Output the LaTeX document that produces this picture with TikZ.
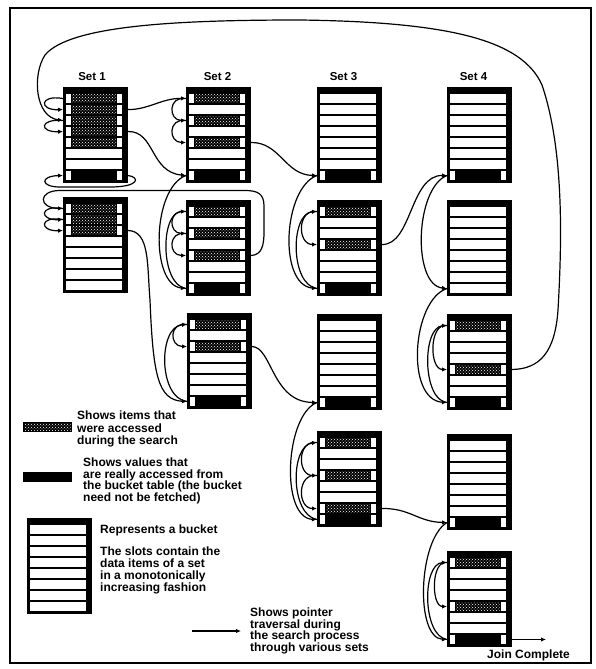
\documentclass[tikz,border=0pt]{standalone}
\usepackage{fontspec}
\setmainfont{Liberation Sans}
\usetikzlibrary{arrows.meta,patterns}
\newcommand\slotw[2]{\fill[white] (3,#1) rectangle (59,#2);}
\newcommand\sloth[2]{\fill[white] (3,#1) rectangle (59,#2);\fill[black] (7.5,#1) rectangle (54,#2);\fill[pattern=crosshatch dots,pattern color=white] (9,#1+1.2) rectangle (52.5,#2-1.2);}
\newcommand\slotb[2]{\fill[white] (3,#1) rectangle (59,#2);\fill[black] (7.5,#1) rectangle (53.5,#2);}
\newcommand\mkbucket[4]{%
 \begin{scope}[shift={(#2,#3)}]
 \fill[black] (0,0) rectangle (65,96);
 \foreach \c [count=\i] in {#4}{%
  \pgfmathsetmacro\yt{6+(\i-1)*11+0.75}%
  \pgfmathsetmacro\yb{6+\i*11-0.75}%
  \pgfmathsetmacro\ym{0.5+11*\i}%
  \coordinate (#1-L\i) at (0,\ym);
  \coordinate (#1-R\i) at (65,\ym);
  \csname slot\c\endcsname{\yt}{\yb}%
 }
 \end{scope}}
\tikzset{
 conn/.style={line width=1.2pt,-{Latex[length=5pt,width=4.5pt]}},
 lbl/.style={font=\fontsize{12}{12.5}\selectfont\bfseries,inner sep=0pt,align=left,anchor=north west},
 lbltight/.style={lbl,font=\fontsize{12}{11.5}\selectfont\bfseries},
 ttl/.style={font=\fontsize{11.5}{12}\selectfont\bfseries,inner sep=0pt,anchor=north}
}
\begin{document}
\begin{tikzpicture}[x=1pt,y=-1pt]
\useasboundingbox (0,0) rectangle (596,669);
\fill[white] (0,0) rectangle (596,669);
\draw[line width=2.5pt] (10,8) rectangle (591,663);

% titles
\node[ttl] (t1) at (92,72) {Set 1};
\node[ttl] (t2) at (217.5,72) {Set 2};
\node[ttl] (t3) at (343.5,72) {Set 3};
\node[ttl] (t4) at (473.5,72) {Set 4};

% buckets
\mkbucket{s1a}{63}{87}{h,h,h,h,h,w,w,b}
\mkbucket{s1b}{63}{197}{h,h,h,w,w,w,w,w}
\mkbucket{s2a}{186}{87}{h,w,h,w,h,w,w,b}
\mkbucket{s2b}{186}{200}{h,w,h,w,h,w,w,b}
\mkbucket{s2c}{187}{313}{h,w,h,w,w,w,w,b}
\mkbucket{s3a}{317}{87}{w,w,w,w,w,w,w,b}
\mkbucket{s3b}{317}{200}{h,w,w,h,w,w,w,b}
\mkbucket{s3c}{317}{314}{w,w,w,w,w,w,w,b}
\mkbucket{s3d}{317}{431}{h,w,w,h,w,w,h,b}
\mkbucket{s4a}{447}{87}{w,w,w,w,w,w,w,b}
\mkbucket{s4b}{447}{200}{w,w,w,w,w,w,w,w}
\mkbucket{s4c}{447}{314}{h,w,w,w,h,w,w,b}
\mkbucket{s4d}{447}{434}{w,w,w,w,w,w,w,b}
\mkbucket{s4e}{447}{551}{h,w,w,w,h,w,w,b}

% big loop
\draw[conn] (s4c-R5) .. controls (540,369) and (555,352) .. (558,310)
  .. controls (562,240) and (564,150) .. (542,85)
  .. controls (522,40) and (450,22) .. (300,20)
  .. controls (180,20) and (70,25) .. (45,55)
  .. controls (32,75) and (35,117) .. (s1a-L3);

% set 1
\draw[conn] (s1a-L1) .. controls +(-24,-4) and +(-24,1) .. (s1a-L2);
\draw[conn] (s1a-L3) .. controls +(-24,-2) and +(-24,1) .. (s1a-L4);
\draw[conn] (s1a-R8) .. controls (140,177) and (140,187) .. (110,187) -- (60,187) .. controls (40,187) and (40,176) .. (s1a-L8);
\draw[conn] (s2b-R5) .. controls (262,255) and (264,245) .. (264,232) -- (264,206) .. controls (264,194) and (258,190.5) .. (245,190.5) -- (60,190.5) .. controls (38,190.5) and (38,208) .. (s1b-L1);
\draw[conn] (s1b-L1) .. controls +(-24,-4) and +(-24,1) .. (s1b-L2);
\draw[conn] (s1b-L2) .. controls +(-24,-4) and +(-24,1) .. (s1b-L3);
\draw[conn] (s1a-R2) .. controls (148,110) and (162,98) .. (s2a-L1);
\draw[conn] (s1a-R4) .. controls (155,131) and (150,172) .. (s2a-L8);
\draw[conn] (s1b-R3) .. controls (150,231) and (147,265) .. (150,300) .. controls (153,375) and (158,400) .. (s2c-L8);

% set 2
\draw[conn] (s2a-L1) .. controls +(-18,-3) and +(-18,0) .. (s2a-L3);
\draw[conn] (s2a-L3) .. controls +(-18,-3) and +(-18,0) .. (s2a-L5);
\draw[conn] (s2a-L8) .. controls (152,188) and (150,285) .. (s2b-L8);
\draw[conn] (s2b-L8) .. controls (160,285) and (160,212) .. (s2b-L1);
\draw[conn] (s2b-L1) .. controls +(-18,-3) and +(-18,0) .. (s2b-L3);
\draw[conn] (s2b-L3) .. controls +(-18,-3) and +(-18,0) .. (s2b-L5);
\draw[conn] (s2c-L8) .. controls (158,398) and (158,326) .. (s2c-L1);
\draw[conn] (s2c-L1) .. controls +(-18,-3) and +(-18,0) .. (s2c-L3);
\draw[conn] (s2a-R5) .. controls (280,142) and (285,175) .. (s3a-L8);
\draw[conn] (s2c-R3) .. controls (272,347) and (272,402) .. (s3c-L8);

% set 3
\draw[conn] (s3a-L8) .. controls (283,188) and (278,285) .. (s3b-L8);
\draw[conn] (s3b-L8) .. controls (290,285) and (290,213) .. (s3b-L1);
\draw[conn] (s3b-L1) .. controls +(-20,-3) and +(-20,0) .. (s3b-L4);
\draw[conn] (s3b-R4) .. controls (412,245) and (410,175) .. (s4a-L8);
\draw[conn] (s3c-L8) .. controls (285,415) and (280,518) .. (s3d-L8);
\draw[conn] (s3d-L8) .. controls (290,515) and (290,445) .. (s3d-L1);
\draw[conn] (s3d-L1) .. controls +(-20,-3) and +(-20,0) .. (s3d-L4);
\draw[conn] (s3d-L4) .. controls +(-20,-3) and +(-20,0) .. (s3d-L7);
\draw[conn] (s3d-R7) .. controls (410,508) and (418,522) .. (s4d-L8);

% set 4
\draw[conn] (s4a-L8) .. controls (415,188) and (412,285) .. (s4b-L8);
\draw[conn] (s4b-L8) .. controls (412,300) and (405,400) .. (s4c-L8);
\draw[conn] (s4c-L8) .. controls (422,400) and (422,327) .. (s4c-L1);
\draw[conn] (s4c-L1) .. controls +(-18,-3) and +(-18,0) .. (s4c-L5);
\draw[conn] (s4d-L8) .. controls (418,540) and (415,638) .. (s4e-L8);
\draw[conn] (s4e-L8) .. controls (422,636) and (422,563) .. (s4e-L1);
\draw[conn] (s4e-L1) .. controls +(-16,-3) and +(-16,0) .. (s4e-L5);
\coordinate (jc) at (546,639.5);
\draw[conn] (s4e-R8) -- (jc);
\node[lbl] (jct) at (487,650) {Join Complete};

% legend
\fill[black] (23,422) rectangle (72,432);
\fill[pattern=crosshatch dots,pattern color=white] (24.5,423.5) rectangle (70.5,430.5);
\node[lbl] (l1) at (77,411) {Shows items that\\were accessed\\during the search};
\fill[black] (23,472) rectangle (72,482);
\node[lbltight] (l2) at (83,458) {Shows values that\\are really accessed from\\the bucket table (the bucket\\need not be fetched)};
\mkbucket{leg}{27}{518}{w,w,w,w,w,w,w,w}
\node[lbl] (l3) at (100,525) {Represents a bucket};
\node[lbl,font=\fontsize{12}{12}\selectfont\bfseries] (l4) at (100,547) {The slots contain the\\data items of a set\\in a monotonically\\increasing fashion};
\coordinate (la1) at (192,631);
\coordinate (la2) at (241,631);
\draw[conn] (la1) -- (la2);
\node[lbltight] (l5) at (250,608) {Shows pointer\\traversal during\\the search process\\through various sets};
\end{tikzpicture}
\end{document}
